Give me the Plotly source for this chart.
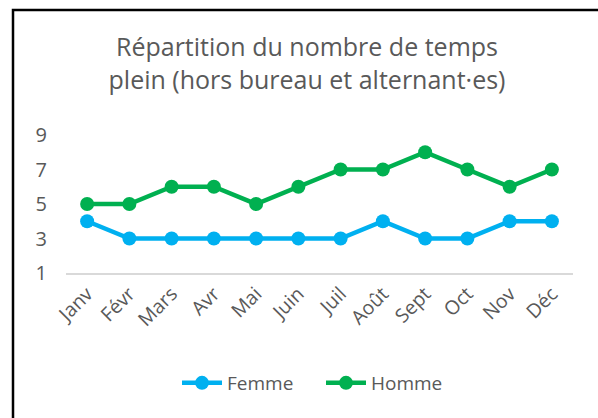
import plotly.graph_objects as go

months = ["Janv", "Févr", "Mars", "Avr", "Mai", "Juin", "Juil", "Août", "Sept", "Oct", "Nov", "Déc"]
femme = [4, 3, 3, 3, 3, 3, 3, 4, 3, 3, 4, 4]
homme = [5, 5, 6, 6, 5, 6, 7, 7, 8, 7, 6, 7]
y_ticks = [1, 3, 5, 7, 9]

FONT = "'Open Sans', sans-serif"
GREY = "#595959"

fig = go.Figure()
fig.add_trace(go.Scatter(x=months, y=femme, name="Femme", mode="lines+markers",
                         line=dict(color="#00B0F0", width=4.5),
                         marker=dict(color="#00B0F0", size=14)))
fig.add_trace(go.Scatter(x=months, y=homme, name="Homme", mode="lines+markers",
                         line=dict(color="#00B050", width=4.5),
                         marker=dict(color="#00B050", size=14)))

fig.update_layout(
    width=598, height=418,
    margin=dict(l=66, r=25, t=135, b=145, autoexpand=False),
    paper_bgcolor="white", plot_bgcolor="white",
    font=dict(family=FONT, color=GREY, size=19),
    title=dict(text="Répartition du nombre de temps<br>plein (hors bureau et alternant·es)",
               x=307/598, xanchor="center", xref="container",
               y=1 - 56/418, yanchor="middle", yref="container",
               font=dict(family=FONT, size=25, color=GREY)),
    showlegend=True,
    legend=dict(orientation="h", x=(177 - 66) / 507, xanchor="left",
                y=(273 - 383) / 138, yanchor="middle",
                font=dict(family=FONT, size=19, color=GREY),
                itemwidth=40, entrywidth=89, entrywidthmode="pixels"),
    xaxis=dict(type="category", tickangle=-45, showgrid=False,
               showline=True, linecolor="#D9D9D9", linewidth=1.5,
               ticks="", tickfont=dict(size=19.5, color=GREY),
               range=[-0.5, 11.5]),
    yaxis=dict(range=[1, 9], tickvals=y_ticks, showgrid=False, zeroline=False,
               showline=False, ticks="", ticklabelstandoff=18,
               tickfont=dict(size=20, color=GREY)),
    shapes=[dict(type="rect", xref="paper", yref="paper",
                 x0=(13 - 66) / 507, x1=(610 - 66) / 507,
                 y0=(273 - 430) / 138, y1=(273 - 10) / 138,
                 line=dict(color="black", width=2.5), fillcolor="rgba(0,0,0,0)",
                 layer="below")],
)

fig.write_html("out.html", config={"displayModeBar": False},
               post_script="document.body.style.margin='0';document.body.style.overflow='hidden';")
